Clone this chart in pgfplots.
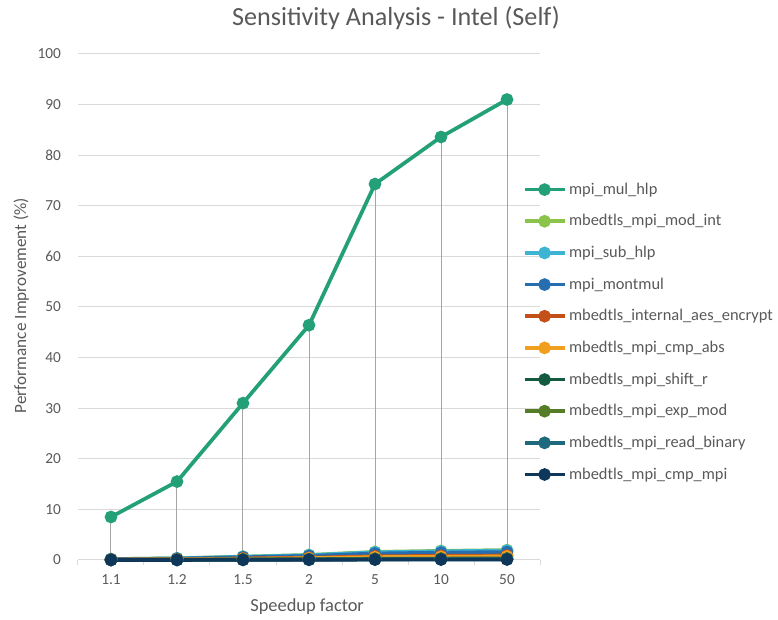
\documentclass[border=0pt]{standalone}
\usepackage{fontspec}
\setmainfont{Carlito}
\usepackage{pgfplots}
\pgfplotsset{compat=1.18}
\definecolor{cA}{RGB}{36,160,120}
\definecolor{cB}{RGB}{140,195,75}
\definecolor{cC}{RGB}{60,180,210}
\definecolor{cD}{RGB}{38,110,175}
\definecolor{cE}{RGB}{195,80,25}
\definecolor{cF}{RGB}{240,160,30}
\definecolor{cG}{RGB}{20,90,65}
\definecolor{cH}{RGB}{85,125,40}
\definecolor{cI}{RGB}{30,105,125}
\definecolor{cJ}{RGB}{15,55,90}
\definecolor{txt}{RGB}{89,89,89}
\definecolor{grd}{RGB}{217,217,217}
\definecolor{drop}{RGB}{165,165,165}
\begin{document}
\begin{tikzpicture}
\useasboundingbox (-58.5pt,-45pt) rectangle (525pt,420pt);
\begin{axis}[
  scale only axis,
  width=346.5pt, height=379.5pt,
  at={(0,0)}, anchor=south west,
  xmin=-0.5, xmax=6.5, ymin=0, ymax=100,
  xtick={0,1,2,3,4,5,6},
  xticklabels={1.1,1.2,1.5,2,5,10,50},
  minor xtick={-0.5,0.5,1.5,2.5,3.5,4.5,5.5,6.5},
  ytick={0,10,...,100},
  major x tick style={draw=none},
  minor tick length=3.75pt,
  axis x line*=bottom, axis y line*=left,
  x axis line style={grd, line width=0.75pt},
  y axis line style={draw=none},
  ytick style={draw=none},
  minor x tick style={grd, line width=0.75pt},
  tick align=outside,
  ymajorgrids, grid style={grd, line width=0.75pt},
  ticklabel style={font=\fontsize{11.5}{13}\selectfont, text=txt},
  /pgf/number format/assume math mode=true,
  yticklabel style={xshift=-5pt},
  xticklabel style={yshift=-3pt},
  xlabel={Speedup factor},
  ylabel={Performance Improvement (\%)},
  xlabel style={font=\fontsize{13.8}{15}\selectfont, text=txt, at={(axis description cs:0.496,-0.093)}, anchor=center},
  ylabel style={font=\fontsize{12.9}{15}\selectfont, text=txt, at={(axis description cs:-0.123,0.503)}, anchor=center, rotate=0},
  legend style={at={(axis description cs:0.962,0.751)}, anchor=north west, draw=none, fill=none,
    font=\fontsize{12.3}{13}\selectfont, text=txt, row sep=9.7pt, inner sep=0pt},
  legend cell align=left,
  legend image code/.code={\draw[mark repeat=2, mark phase=2, #1] plot coordinates {(0pt,0pt)(15pt,0pt)(30pt,0pt)};},
  every axis plot/.append style={line width=2.8pt, mark=*, mark size=3.3pt},
  clip=false,
]
\addplot[ycomb, drop, line width=0.75pt, mark=none, forget plot] coordinates {(0,8.5)(1,15.5)(2,31.0)(3,46.4)(4,74.3)(5,83.6)(6,91.0)};
\addplot[cA, mark options={fill=cA}] coordinates {(0,8.5)(1,15.5)(2,31.0)(3,46.4)(4,74.3)(5,83.6)(6,91.0)};
\addplot[cB, mark options={fill=cB}] coordinates {(0,0.18)(1,0.33)(2,0.67)(3,1.0)(4,1.6)(5,1.8)(6,1.96)};
\addplot[cC, mark options={fill=cC}] coordinates {(0,0.17)(1,0.32)(2,0.63)(3,0.95)(4,1.52)(5,1.71)(6,1.86)};
\addplot[cD, mark options={fill=cD}] coordinates {(0,0.15)(1,0.27)(2,0.53)(3,0.8)(4,1.28)(5,1.44)(6,1.57)};
\addplot[cE, mark options={fill=cE}] coordinates {(0,0.08)(1,0.15)(2,0.3)(3,0.45)(4,0.72)(5,0.81)(6,0.88)};
\addplot[cF, mark options={fill=cF}] coordinates {(0,0.06)(1,0.12)(2,0.23)(3,0.35)(4,0.56)(5,0.63)(6,0.69)};
\addplot[cG, mark options={fill=cG}] coordinates {(0,0.03)(1,0.05)(2,0.1)(3,0.15)(4,0.24)(5,0.27)(6,0.29)};
\addplot[cH, mark options={fill=cH}] coordinates {(0,0.02)(1,0.03)(2,0.07)(3,0.1)(4,0.16)(5,0.18)(6,0.2)};
\addplot[cI, mark options={fill=cI}] coordinates {(0,0.01)(1,0.03)(2,0.05)(3,0.08)(4,0.12)(5,0.14)(6,0.15)};
\addplot[cJ, mark options={fill=cJ}] coordinates {(0,0.01)(1,0.02)(2,0.03)(3,0.05)(4,0.08)(5,0.09)(6,0.1)};
\legend{mpi\_mul\_hlp,mbedtls\_mpi\_mod\_int,mpi\_sub\_hlp,mpi\_montmul,mbedtls\_internal\_aes\_encrypt,mbedtls\_mpi\_cmp\_abs,mbedtls\_mpi\_shift\_r,mbedtls\_mpi\_exp\_mod,mbedtls\_mpi\_read\_binary,mbedtls\_mpi\_cmp\_mpi}
\end{axis}
\node[text=txt, font=\fontsize{19.6}{22}\selectfont] at (238.5pt,406.5pt) {Sensitivity Analysis - Intel (Self)};
\end{tikzpicture}
\end{document}
